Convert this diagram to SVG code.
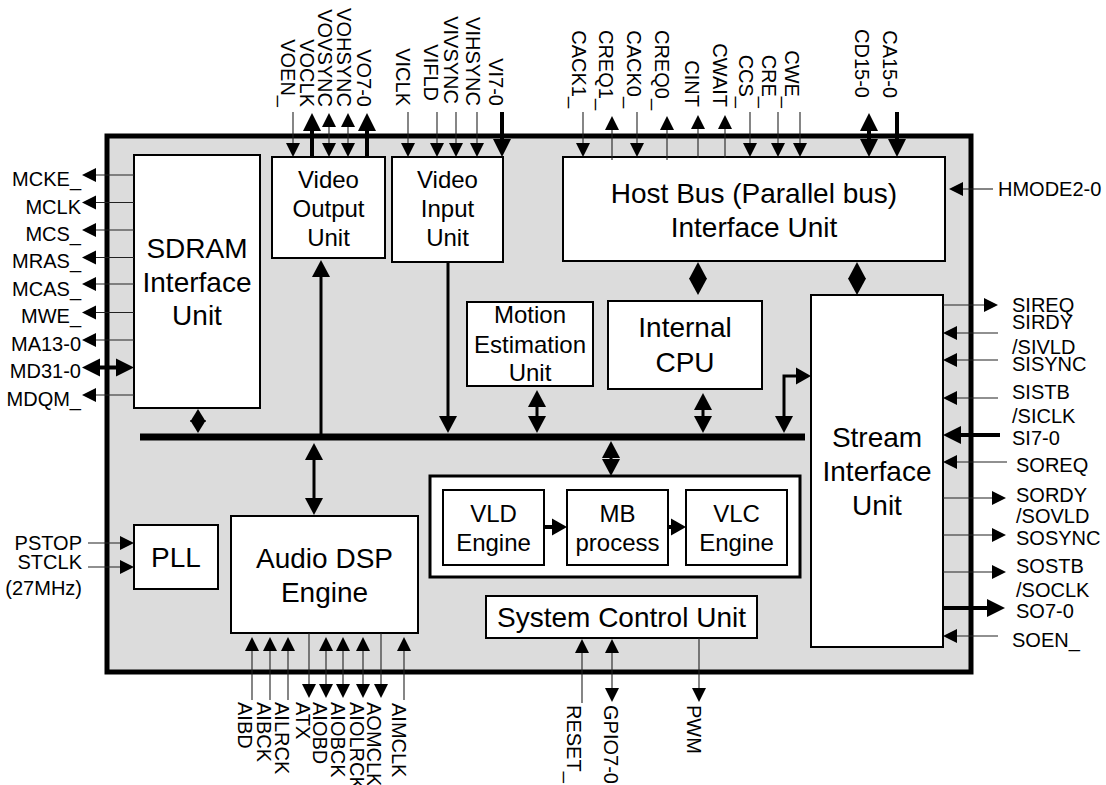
<svg xmlns="http://www.w3.org/2000/svg" xmlns:xlink="http://www.w3.org/1999/xlink" width="1106" height="785" viewBox="0 0 1106 785">
<style>
text{font-family:"Liberation Sans",Arial,sans-serif;fill:#000}
.p{font-size:20px}
.b28{font-size:28px;text-anchor:middle}
.b24{font-size:24px;text-anchor:middle}
.box{fill:#fff;stroke:#000;stroke-width:2}
.thin{stroke:#222;stroke-width:1.1;fill:none}
.thick{stroke:#000;stroke-width:4;fill:none}
.med{stroke:#000;stroke-width:3;fill:none}
.ah{fill:#000}
</style>
<defs>
<path id="ad" class="ah" d="M-7,-14H7L0,0Z"/>
<path id="au" class="ah" d="M-7,14H7L0,0Z"/>
<path id="al" class="ah" d="M14,-7V7L0,0Z"/>
<path id="ar" class="ah" d="M-14,-7V7L0,0Z"/>
<path id="AD" class="ah" d="M-9,-18H9L0,0Z"/>
<path id="AU" class="ah" d="M-9,18H9L0,0Z"/>
<path id="AL" class="ah" d="M18,-9V9L0,0Z"/>
<path id="AR" class="ah" d="M-18,-9V9L0,0Z"/>
<path id="bd" class="ah" d="M-9,-17H9L0,0Z"/>
<path id="bu" class="ah" d="M-9,17H9L0,0Z"/>
<path id="br" class="ah" d="M-15,-8.5V8.5L0,0Z"/>
<path id="sd" class="ah" d="M-8,-13H8L0,0Z"/>
<path id="su" class="ah" d="M-8,13H8L0,0Z"/>
</defs>

<g id="chip">
<rect x="107" y="136" width="864" height="536" fill="#dcdcdc" stroke="#000" stroke-width="5"/>
</g>

<g id="sdram">
<rect class="box" x="134" y="155" width="126" height="253"/>
<text class="b28" x="197" y="258">SDRAM</text>
<text class="b28" x="197" y="292">Interface</text>
<text class="b28" x="197" y="325">Unit</text>
</g>

<g id="video-output">
<rect class="box" x="272" y="157" width="113" height="101"/>
<text class="b24" x="328.5" y="188">Video</text>
<text class="b24" x="328.5" y="217">Output</text>
<text class="b24" x="328.5" y="246">Unit</text>
</g>

<g id="video-input">
<rect class="box" x="392" y="157" width="111" height="105"/>
<text class="b24" x="447.5" y="188">Video</text>
<text class="b24" x="447.5" y="217">Input</text>
<text class="b24" x="447.5" y="246">Unit</text>
</g>

<g id="host-bus">
<rect class="box" x="563" y="157" width="382" height="104"/>
<text class="b28" x="754" y="203">Host Bus (Parallel bus)</text>
<text class="b28" x="754" y="237">Interface Unit</text>
</g>

<g id="motion">
<rect class="box" x="467" y="302" width="126" height="84"/>
<text class="b24" x="530" y="323">Motion</text>
<text class="b24" x="530" y="353">Estimation</text>
<text class="b24" x="530" y="381">Unit</text>
</g>

<g id="cpu">
<rect class="box" x="608" y="301" width="154" height="88"/>
<text class="b28" x="685" y="337">Internal</text>
<text class="b28" x="685" y="372">CPU</text>
</g>

<g id="stream">
<rect class="box" x="811" y="295" width="132" height="352"/>
<text class="b28" x="877" y="447">Stream</text>
<text class="b28" x="877" y="481">Interface</text>
<text class="b28" x="877" y="515">Unit</text>
</g>

<g id="codec">
<rect x="430" y="476" width="370" height="101" fill="#fff" stroke="#000" stroke-width="3"/>
</g>
<g id="vld">
<rect class="box" x="443" y="490" width="101" height="75"/>
<text class="b24" x="493.5" y="522">VLD</text>
<text class="b24" x="493.5" y="551">Engine</text>
</g>
<g id="mb">
<rect class="box" x="567" y="490" width="101" height="75"/>
<text class="b24" x="617.5" y="522">MB</text>
<text class="b24" x="617.5" y="551">process</text>
</g>
<g id="vlc">
<rect class="box" x="686" y="490" width="101" height="75"/>
<text class="b24" x="736.5" y="522">VLC</text>
<text class="b24" x="736.5" y="551">Engine</text>
</g>

<g id="pll">
<rect class="box" x="134" y="525" width="84" height="64"/>
<text class="b28" x="176" y="567">PLL</text>
</g>

<g id="audio">
<rect class="box" x="231" y="516" width="187" height="117"/>
<text class="b28" x="324.5" y="568">Audio DSP</text>
<text class="b28" x="324.5" y="602">Engine</text>
</g>

<g id="system-control">
<rect class="box" x="486" y="596" width="271" height="42"/>
<text class="b28" x="621.5" y="627">System Control Unit</text>
</g>

<g id="connectors">
<!-- internal bus -->
<rect x="140" y="433.5" width="665" height="7" fill="#000"/>
<!-- SDRAM <-> bus -->
<line class="med" x1="198" y1="415" x2="198" y2="427"/>
<use href="#su" x="198" y="409"/><use href="#sd" x="198" y="433"/>
<!-- bus -> video output -->
<line class="med" x1="321" y1="276" x2="321" y2="434"/>
<use href="#bu" x="321" y="260"/>
<!-- video input -> bus -->
<line class="med" x1="448" y1="262" x2="448" y2="417"/>
<use href="#bd" x="448" y="433"/>
<!-- bus <-> audio -->
<line class="med" x1="314" y1="459" x2="314" y2="499"/>
<use href="#bu" x="314" y="443"/><use href="#bd" x="314" y="515"/>
<!-- motion <-> bus -->
<line class="med" x1="537" y1="406" x2="537" y2="417"/>
<use href="#bu" x="537" y="390"/><use href="#bd" x="537" y="433"/>
<!-- cpu <-> bus -->
<line class="med" x1="703" y1="408" x2="703" y2="417"/>
<use href="#bu" x="703" y="393"/><use href="#bd" x="703" y="433"/>
<!-- bus <-> codec -->
<line class="med" x1="611" y1="456" x2="611" y2="461"/>
<use href="#bu" x="611" y="441"/><use href="#bd" x="611" y="476"/>
<!-- bus <-> stream -->
<polyline class="med" points="784,417 784,376 797,376"/>
<use href="#bd" x="784" y="433"/><use href="#br" x="811" y="376"/>
<!-- host <-> cpu, host <-> stream (diamonds) -->
<use href="#bu" x="698" y="262"/><path class="ah" d="M689,278.5H707L698,295Z"/>
<use href="#bu" x="857" y="262"/><path class="ah" d="M848,278.5H866L857,295Z"/>
<!-- codec pipeline -->
<line class="thick" x1="544" y1="527" x2="553" y2="527"/>
<use href="#br" x="567" y="527"/>
<line class="thick" x1="668" y1="527" x2="672" y2="527"/>
<use href="#br" x="686" y="527"/>
</g>

<g id="pins-sdram">
<line class="thin" x1="96" y1="175" x2="134" y2="175"/><use href="#al" x="82" y="175"/>
<line class="thin" x1="96" y1="202.5" x2="134" y2="202.5"/><use href="#al" x="82" y="202.5"/>
<line class="thin" x1="96" y1="230" x2="134" y2="230"/><use href="#al" x="82" y="230"/>
<line class="thin" x1="96" y1="257.5" x2="134" y2="257.5"/><use href="#al" x="82" y="257.5"/>
<line class="thin" x1="96" y1="284" x2="134" y2="284"/><use href="#al" x="82" y="284"/>
<line class="thin" x1="96" y1="312.5" x2="134" y2="312.5"/><use href="#al" x="82" y="312.5"/>
<line class="thin" x1="96" y1="340" x2="134" y2="340"/><use href="#al" x="82" y="340"/>
<line class="thick" x1="99" y1="367.5" x2="117" y2="367.5"/><use href="#AL" x="82" y="367.5"/><use href="#AR" x="134" y="367.5"/>
<line class="thin" x1="96" y1="395" x2="134" y2="395"/><use href="#al" x="82" y="395"/>
<text class="p" text-anchor="end" x="81" y="186">MCKE_</text>
<text class="p" text-anchor="end" x="81" y="213.5">MCLK</text>
<text class="p" text-anchor="end" x="81" y="241">MCS_</text>
<text class="p" text-anchor="end" x="81" y="268">MRAS_</text>
<text class="p" text-anchor="end" x="81" y="295.5">MCAS_</text>
<text class="p" text-anchor="end" x="81" y="323">MWE_</text>
<text class="p" text-anchor="end" x="81" y="350.5">MA13-0</text>
<text class="p" text-anchor="end" x="81" y="378">MD31-0</text>
<text class="p" text-anchor="end" x="81" y="405.5">MDQM_</text>
</g>

<g id="pins-pll">
<line class="thin" x1="88" y1="543" x2="121" y2="543"/><use href="#ar" x="134" y="543"/>
<line class="thin" x1="88" y1="567" x2="121" y2="567"/><use href="#ar" x="134" y="567"/>
<text class="p" text-anchor="end" x="82" y="550">PSTOP</text>
<text class="p" text-anchor="end" x="82" y="569">STCLK</text>
<text class="p" text-anchor="end" x="82" y="595">(27MHz)</text>
</g>

<g id="pins-video">
<line class="thin" x1="293" y1="112" x2="293" y2="144"/><use href="#ad" x="293" y="157"/>
<line class="thick" x1="312" y1="130" x2="312" y2="157"/><use href="#AU" x="312" y="113"/>
<line class="thin" x1="329" y1="126" x2="329" y2="144"/><use href="#au" x="329" y="113"/><use href="#ad" x="329" y="157"/>
<line class="thin" x1="348" y1="126" x2="348" y2="144"/><use href="#au" x="348" y="113"/><use href="#ad" x="348" y="157"/>
<line class="thick" x1="367" y1="130" x2="367" y2="157"/><use href="#AU" x="367" y="113"/>
<line class="thin" x1="408" y1="112" x2="408" y2="144"/><use href="#ad" x="408" y="157"/>
<line class="thin" x1="437" y1="112" x2="437" y2="144"/><use href="#ad" x="437" y="157"/>
<line class="thin" x1="456" y1="112" x2="456" y2="144"/><use href="#ad" x="456" y="157"/>
<line class="thin" x1="477" y1="112" x2="477" y2="144"/><use href="#ad" x="477" y="157"/>
<line class="thick" x1="502" y1="112" x2="502" y2="140"/><use href="#AD" x="502" y="157"/>
<g class="p" text-anchor="end">
<text transform="translate(281,107) rotate(90)">VOEN_</text>
<text transform="translate(300,107) rotate(90)">VOCLK</text>
<text transform="translate(318,107) rotate(90)">VOVSYNC</text>
<text transform="translate(337,107) rotate(90)">VOHSYNC</text>
<text transform="translate(357,107) rotate(90)">VO7-0</text>
<text transform="translate(396,106) rotate(90)">VICLK</text>
<text transform="translate(424,101) rotate(90)">VIFLD</text>
<text transform="translate(444,104) rotate(90)">VIVSYNC</text>
<text transform="translate(466,106) rotate(90)">VIHSYNC</text>
<text transform="translate(489,106) rotate(90)">VI7-0</text>
</g>
</g>

<g id="pins-host">
<line class="thin" x1="583" y1="112" x2="583" y2="144"/><use href="#ad" x="583" y="157"/>
<line class="thin" x1="612" y1="128" x2="612" y2="160"/><use href="#au" x="612" y="116"/>
<line class="thin" x1="637" y1="112" x2="637" y2="144"/><use href="#ad" x="637" y="157"/>
<line class="thin" x1="667" y1="128" x2="667" y2="160"/><use href="#au" x="667" y="116"/>
<line class="thin" x1="698" y1="128" x2="698" y2="158"/><use href="#au" x="698" y="115"/>
<line class="thin" x1="725" y1="128" x2="725" y2="158"/><use href="#au" x="725" y="115"/>
<line class="thin" x1="750" y1="112" x2="750" y2="144"/><use href="#ad" x="750" y="157"/>
<line class="thin" x1="778" y1="112" x2="778" y2="144"/><use href="#ad" x="778" y="157"/>
<line class="thin" x1="800" y1="112" x2="800" y2="144"/><use href="#ad" x="800" y="157"/>
<line class="thick" x1="869" y1="130" x2="869" y2="140"/><use href="#AU" x="869" y="113"/><use href="#AD" x="869" y="157"/>
<line class="thick" x1="897" y1="112" x2="897" y2="140"/><use href="#AD" x="897" y="157"/>
<g class="p" text-anchor="end">
<text transform="translate(572,108) rotate(90)">CACK1_</text>
<text transform="translate(599,110) rotate(90)">CREQ1_</text>
<text transform="translate(627,108) rotate(90)">CACK0_</text>
<text transform="translate(655,110) rotate(90)">CREQ0_</text>
<text transform="translate(685,107) rotate(90)">CINT</text>
<text transform="translate(713,107) rotate(90)">CWAIT</text>
<text transform="translate(739,108) rotate(90)">CCS_</text>
<text transform="translate(762,108) rotate(90)">CRE_</text>
<text transform="translate(785,108) rotate(90)">CWE_</text>
<text transform="translate(855,98) rotate(90)">CD15-0</text>
<text transform="translate(883,98) rotate(90)">CA15-0</text>
</g>
<line class="thin" x1="962" y1="189" x2="993" y2="189"/><use href="#al" x="949" y="189"/>
<text class="p" x="998" y="196">HMODE2-0</text>
</g>

<g id="pins-stream">
<line class="thin" x1="943" y1="305" x2="985" y2="305"/><use href="#ar" x="998" y="305"/>
<line class="thin" x1="956" y1="333" x2="998" y2="333"/><use href="#al" x="943" y="333"/>
<line class="thin" x1="956" y1="360" x2="998" y2="360"/><use href="#al" x="943" y="360"/>
<line class="thin" x1="956" y1="398" x2="998" y2="398"/><use href="#al" x="943" y="398"/>
<line class="thick" x1="960" y1="435" x2="1000" y2="435"/><use href="#AL" x="943" y="435"/>
<line class="thin" x1="956" y1="462" x2="1007" y2="462"/><use href="#al" x="943" y="462"/>
<line class="thin" x1="943" y1="498" x2="993" y2="498"/><use href="#ar" x="1006" y="498"/>
<line class="thin" x1="943" y1="535" x2="993" y2="535"/><use href="#ar" x="1006" y="535"/>
<line class="thin" x1="943" y1="572" x2="993" y2="572"/><use href="#ar" x="1006" y="572"/>
<line class="thick" x1="943" y1="608" x2="988" y2="608"/><use href="#AR" x="1005" y="608"/>
<line class="thin" x1="956" y1="636" x2="998" y2="636"/><use href="#al" x="943" y="636"/>
<g class="p">
<text x="1012" y="312">SIREQ</text>
<text x="1012" y="329">SIRDY</text>
<text x="1012" y="354">/SIVLD</text>
<text x="1012" y="371">SISYNC</text>
<text x="1012" y="399">SISTB</text>
<text x="1012" y="423">/SICLK</text>
<text x="1012" y="445">SI7-0</text>
<text x="1016" y="472">SOREQ</text>
<text x="1016" y="502">SORDY</text>
<text x="1016" y="523">/SOVLD</text>
<text x="1016" y="545">SOSYNC</text>
<text x="1016" y="573">SOSTB</text>
<text x="1016" y="597">/SOCLK</text>
<text x="1016" y="618">SO7-0</text>
<text x="1012" y="647">SOEN_</text>
</g>
</g>

<g id="pins-audio">
<line class="thin" x1="252" y1="650" x2="252" y2="700"/><use href="#au" x="252" y="637"/>
<line class="thin" x1="270" y1="650" x2="270" y2="700"/><use href="#au" x="270" y="637"/>
<line class="thin" x1="288" y1="650" x2="288" y2="700"/><use href="#au" x="288" y="637"/>
<line class="thin" x1="309" y1="633" x2="309" y2="685"/><use href="#ad" x="309" y="698"/>
<line class="thin" x1="326" y1="650" x2="326" y2="685"/><use href="#au" x="326" y="637"/><use href="#ad" x="326" y="698"/>
<line class="thin" x1="343" y1="650" x2="343" y2="685"/><use href="#au" x="343" y="637"/><use href="#ad" x="343" y="698"/>
<line class="thin" x1="363" y1="650" x2="363" y2="685"/><use href="#au" x="363" y="637"/><use href="#ad" x="363" y="698"/>
<line class="thin" x1="381" y1="633" x2="381" y2="685"/><use href="#ad" x="381" y="698"/>
<line class="thin" x1="404" y1="650" x2="404" y2="700"/><use href="#au" x="404" y="637"/>
<g class="p">
<text transform="translate(238,702) rotate(90)">AIBD</text>
<text transform="translate(257,702) rotate(90)">AIBCK</text>
<text transform="translate(275,702) rotate(90)">AILRCK</text>
<text transform="translate(296,702) rotate(90)">ATX</text>
<text transform="translate(313,702) rotate(90)">AIOBD</text>
<text transform="translate(331,702) rotate(90)">AIOBCK</text>
<text transform="translate(350,702) rotate(90)">AIOLRCK</text>
<text transform="translate(367,702) rotate(90)">AOMCLK</text>
<text transform="translate(392,703) rotate(90)">AIMCLK</text>
</g>
</g>

<g id="pins-system">
<line class="thin" x1="582" y1="652" x2="582" y2="703"/><use href="#au" x="582" y="639"/>
<line class="thin" x1="612" y1="652" x2="612" y2="689"/><use href="#au" x="612" y="639"/><use href="#ad" x="612" y="702"/>
<line class="thin" x1="699" y1="638" x2="699" y2="689"/><use href="#ad" x="699" y="702"/>
<g class="p">
<text transform="translate(567,705) rotate(90)">RESET_</text>
<text transform="translate(604,705) rotate(90)">GPIO7-0</text>
<text transform="translate(687,705) rotate(90)">PWM</text>
</g>
</g>
</svg>
